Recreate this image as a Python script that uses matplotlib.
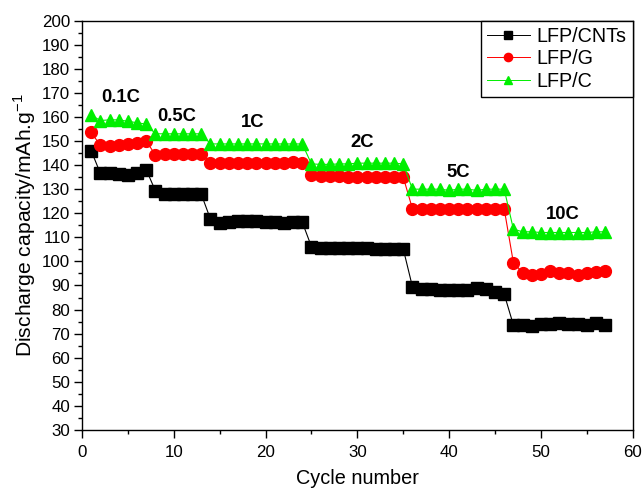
import matplotlib
matplotlib.use('Agg')
import matplotlib.pyplot as plt
from matplotlib.ticker import MultipleLocator

plt.rcParams['font.family'] = ['Liberation Sans', 'DejaVu Sans']

cycles = list(range(1, 58))

# discharge capacity per cycle (mAh/g), rates 0.1C / 0.5C / 1C / 2C / 5C / 10C
cnts = [146.0, 136.6, 136.6, 136.3, 136.0, 136.6, 138.1,
        129.3, 127.9, 127.9, 127.9, 127.9, 127.9,
        117.5, 115.9, 116.3, 116.8, 116.9, 116.9, 116.5, 116.3, 116.0, 116.3, 116.3,
        106.1, 105.7, 105.6, 105.5, 105.4, 105.4, 105.4, 105.3, 105.3, 105.2, 105.2,
        89.5, 88.6, 88.5, 88.2, 88.2, 88.2, 88.2, 88.9, 88.5, 87.2, 86.4,
        73.6, 73.6, 73.2, 73.9, 73.9, 74.3, 74.0, 74.0, 73.6, 74.3, 73.6]
graphene = [153.6, 148.2, 148.0, 148.2, 148.6, 149.2, 150.0,
            144.2, 144.5, 144.6, 144.6, 144.7, 144.7,
            141.0, 140.9, 140.9, 140.9, 141.0, 141.0, 141.0, 141.0, 141.0, 141.1, 141.0,
            135.9, 135.6, 135.6, 135.4, 135.1, 135.0, 135.0, 135.0, 135.0, 135.0, 135.0,
            121.9, 121.8, 121.8, 121.8, 121.8, 121.8, 121.8, 121.8, 121.8, 121.8, 121.8,
            99.5, 95.3, 94.2, 94.8, 96.0, 95.3, 95.0, 94.2, 95.0, 95.4, 96.0]
carbon = [160.8, 158.5, 158.8, 158.8, 158.2, 157.6, 157.0,
          153.0, 153.0, 153.0, 153.0, 153.0, 153.0,
          148.8, 148.8, 148.8, 148.8, 148.8, 148.8, 148.8, 148.8, 148.8, 148.8, 148.8,
          140.5, 140.3, 140.3, 140.5, 140.5, 140.8, 140.8, 140.8, 140.8, 140.8, 140.5,
          130.0, 130.0, 130.0, 130.0, 129.5, 130.0, 130.0, 129.5, 130.0, 130.0, 130.0,
          113.4, 112.3, 112.3, 112.0, 112.0, 112.0, 112.0, 112.0, 112.0, 112.3, 112.3]

rate_labels = ['0.1C', '0.5C', '1C', '2C', '5C', '10C']
rate_label_pos = [(4.25, 168), (10.35, 160), (18.6, 157.5), (30.5, 149.2), (41.0, 137.0), (52.4, 119.3)]

fig = plt.figure(figsize=(6.43, 4.88), dpi=100)
ax = fig.add_axes([0.1275, 0.119, 0.8565, 0.8387])

ax.plot(cycles, cnts, '-s', color='black', lw=0.8, ms=8, label='LFP/CNTs')
ax.plot(cycles, graphene, '-o', color='red', lw=0.8, ms=8.5, label='LFP/G')
ax.plot(cycles, carbon, '-^', color='#00ee00', lw=0.8, ms=9, label='LFP/C')

for txt, (x, y) in zip(rate_labels, rate_label_pos):
    ax.text(x, y, txt, fontsize=13.3, fontweight='bold', ha='center', va='center')

ax.set_xlim(0, 60)
ax.set_ylim(30, 200)
ax.xaxis.set_major_locator(MultipleLocator(10))
ax.xaxis.set_minor_locator(MultipleLocator(5))
ax.yaxis.set_major_locator(MultipleLocator(10))
ax.yaxis.set_minor_locator(MultipleLocator(5))
ax.tick_params(which='both', direction='out', labelsize=12.2, width=1)
ax.tick_params(which='major', length=5.5)
ax.tick_params(axis='x', which='major', pad=5)
ax.tick_params(axis='y', which='major', pad=3)
ax.tick_params(which='minor', length=3)
for sp in ax.spines.values():
    sp.set_linewidth(1)

ax.set_xlabel('Cycle number', fontsize=14.3, labelpad=7)
ax.set_ylabel('Discharge capacity/mAh.g$^{\\mathregular{-1}}$', fontsize=15.2, labelpad=3)

leg = ax.legend(loc='upper right', borderaxespad=0, fontsize=14.2, fancybox=False,
                edgecolor='black', framealpha=1, handlelength=2.2, handletextpad=0.35,
                labelspacing=0.18, borderpad=0.3, markerscale=0.7)
leg.get_frame().set_linewidth(1)
for h in leg.get_lines():
    h.set_linewidth(0.7)

plt.savefig('out.png', dpi=100)
